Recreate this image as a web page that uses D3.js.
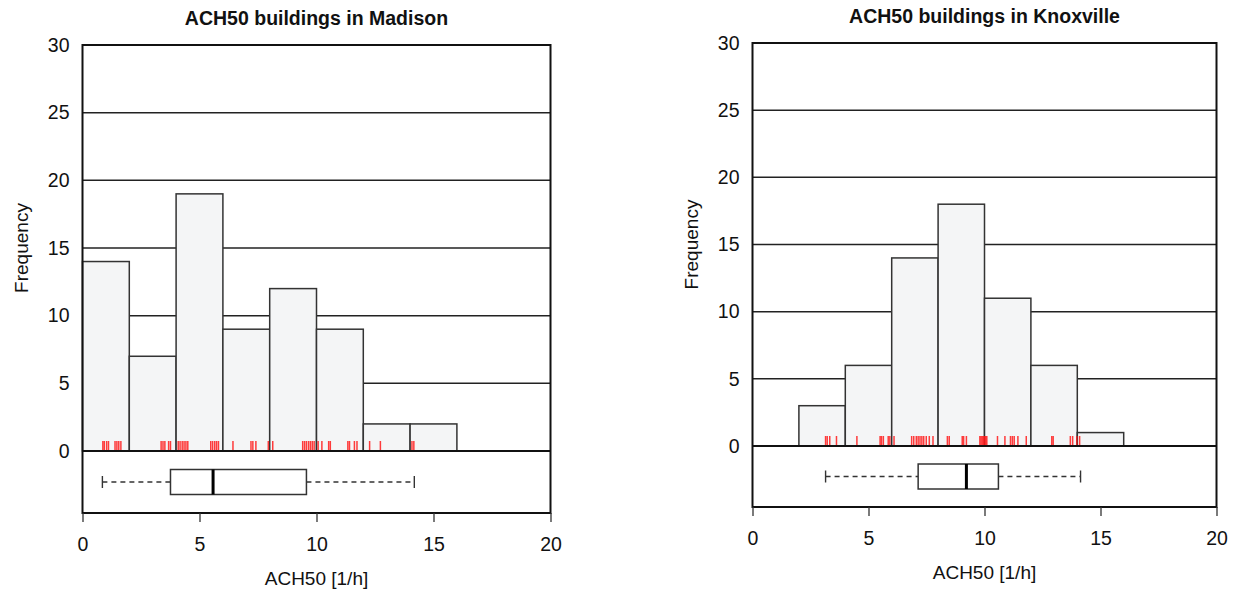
<!DOCTYPE html>
<html>
<head>
<meta charset="utf-8">
<script src="https://d3js.org/d3.v7.min.js"></script>
<style>
  body { margin: 0; background: #fff; }
  text { font-family: "Liberation Sans", Arial, sans-serif; fill: #111; }
</style>
</head>
<body>
<script>
// histogram bins are 2 units wide
var binStarts = [0, 2, 4, 6, 8, 10, 12, 14];
var madisonCounts = [14, 7, 19, 9, 12, 9, 2, 2];
var knoxvilleCounts = [0, 3, 6, 14, 18, 11, 6, 1];

// box plot: min, q1, median, q3, max
var madisonBox = [0.85, 3.76, 5.58, 9.57, 14.18];
var knoxvilleBox = [3.15, 7.14, 9.22, 10.6, 14.14];

// rug marks
var madisonRug = [0.87, 0.93, 1.03, 1.11, 1.39, 1.47, 1.55, 1.64, 3.36, 3.44, 3.52,
  3.68, 3.76, 4.09, 4.17, 4.26, 4.34, 4.42, 4.5, 5.48, 5.56, 5.65, 5.73, 5.81, 6.43,
  7.2, 7.28, 7.41, 7.94, 8.13, 9.41, 9.49, 9.57, 9.66, 9.74, 9.82, 9.9, 10.07, 10.23,
  10.52, 10.59, 11.34, 11.41, 11.62, 11.73, 12.27, 12.73, 14.08, 14.16];
var knoxvilleRug = [3.15, 3.22, 3.33, 3.62, 4.5, 5.5, 5.56, 5.64, 5.85, 5.92, 6.1,
  6.86, 6.95, 7.06, 7.14, 7.22, 7.3, 7.38, 7.49, 7.62, 7.78, 8.4, 8.48, 9.04, 9.1,
  9.22, 9.8, 9.85, 9.9, 9.95, 10.0, 10.05, 10.1, 10.56, 10.88, 11.12, 11.2, 11.28,
  11.44, 11.8, 12.9, 12.96, 13.7, 13.8, 13.98, 14.1];

var xTicks = [0, 5, 10, 15, 20];
var yTicks = [0, 5, 10, 15, 20, 25, 30];
var gridTicks = [5, 10, 15, 20, 25];

var svg = d3.select("body").append("svg")
    .attr("width", 1238)
    .attr("height", 592);

drawPanel({left: 82.5, right: 550.5, top: 45, zero: 451, bottom: 513,
  title: "ACH50 buildings in Madison", counts: madisonCounts,
  box: madisonBox, rug: madisonRug, ylabX: 21});
drawPanel({left: 752.5, right: 1216.5, top: 43, zero: 446, bottom: 507,
  title: "ACH50 buildings in Knoxville", counts: knoxvilleCounts,
  box: knoxvilleBox, rug: knoxvilleRug, ylabX: 691});

function drawPanel(p)
{
  var x = d3.scaleLinear().domain([0, 20]).range([p.left, p.right]);
  var y = d3.scaleLinear().domain([0, 30]).range([p.zero, p.top]);
  var g = svg.append("g");

  // grid lines sit behind the bars
  g.selectAll(".grid")
      .data(gridTicks)
    .enter().append("line")
      .attr("x1", p.left)
      .attr("x2", p.right)
      .attr("y1", function(d) { return y(d); })
      .attr("y2", function(d) { return y(d); })
      .attr("stroke", "#222")
      .attr("stroke-width", 1.5);

  var bins = binStarts.map(function(s, i) { return {x0: s, x1: s + 2, n: p.counts[i]}; })
      .filter(function(d) { return d.n > 0; });

  g.selectAll(".bar")
      .data(bins)
    .enter().append("rect")
      .attr("x", function(d) { return x(d.x0); })
      .attr("y", function(d) { return y(d.n); })
      .attr("width", function(d) { return x(d.x1) - x(d.x0); })
      .attr("height", function(d) { return y(0) - y(d.n); })
      .attr("fill", "#f4f5f6")
      .attr("stroke", "#333")
      .attr("stroke-width", 1.5);

  g.selectAll(".rug")
      .data(p.rug)
    .enter().append("line")
      .attr("x1", function(d) { return x(d); })
      .attr("x2", function(d) { return x(d); })
      .attr("y1", p.zero - 10)
      .attr("y2", p.zero - 1)
      .attr("stroke", "#ff1a1a")
      .attr("stroke-opacity", 0.85)
      .attr("stroke-width", 1.5);

  // box plot underneath
  var cy = (p.zero + p.bottom) / 2;
  var bh = 25;
  var b = p.box;
  g.selectAll(".whisker")
      .data([[b[0], b[1]], [b[3], b[4]]])
    .enter().append("line")
      .attr("x1", function(d) { return x(d[0]); })
      .attr("x2", function(d) { return x(d[1]); })
      .attr("y1", cy)
      .attr("y2", cy)
      .attr("stroke", "#333")
      .attr("stroke-width", 1.4)
      .attr("stroke-dasharray", "5,4");
  g.selectAll(".cap")
      .data([b[0], b[4]])
    .enter().append("line")
      .attr("x1", function(d) { return x(d); })
      .attr("x2", function(d) { return x(d); })
      .attr("y1", cy - 6)
      .attr("y2", cy + 6)
      .attr("stroke", "#333")
      .attr("stroke-width", 1.4);
  g.append("rect")
      .attr("x", x(b[1]))
      .attr("y", cy - bh / 2)
      .attr("width", x(b[3]) - x(b[1]))
      .attr("height", bh)
      .attr("fill", "#fff")
      .attr("stroke", "#333")
      .attr("stroke-width", 1.5);
  g.append("line")
      .attr("x1", x(b[2]))
      .attr("x2", x(b[2]))
      .attr("y1", cy - bh / 2)
      .attr("y2", cy + bh / 2)
      .attr("stroke", "#000")
      .attr("stroke-width", 3);

  // frame and divider
  g.append("rect")
      .attr("x", p.left)
      .attr("y", p.top)
      .attr("width", p.right - p.left)
      .attr("height", p.bottom - p.top)
      .attr("fill", "none")
      .attr("stroke", "#111")
      .attr("stroke-width", 2);
  g.append("line")
      .attr("x1", p.left)
      .attr("x2", p.right)
      .attr("y1", p.zero)
      .attr("y2", p.zero)
      .attr("stroke", "#111")
      .attr("stroke-width", 2);

  var xAxis = d3.axisBottom(x).tickValues(xTicks).tickSize(9).tickPadding(15);
  var ax = g.append("g")
      .attr("transform", "translate(0," + p.bottom + ")")
      .call(xAxis);
  ax.select(".domain").remove();
  ax.selectAll("line").attr("stroke", "#333").attr("stroke-width", 1.3);
  ax.selectAll("text").style("font-size", "19.5px").attr("fill", "#111");

  var yAxis = d3.axisLeft(y).tickValues(yTicks).tickSize(0).tickPadding(13);
  var ay = g.append("g")
      .attr("transform", "translate(" + p.left + ",0)")
      .call(yAxis);
  ay.select(".domain").remove();
  ay.selectAll("text").style("font-size", "19.5px").attr("fill", "#111");

  var cx = (p.left + p.right) / 2;
  g.append("text")
      .attr("x", cx)
      .attr("y", p.top - 20)
      .attr("text-anchor", "middle")
      .style("font-size", "19.5px")
      .style("font-weight", "bold")
      .text(p.title);

  g.append("text")
      .attr("x", cx)
      .attr("y", p.bottom + 72)
      .attr("text-anchor", "middle")
      .style("font-size", "19px")
      .text("ACH50 [1/h]");

  g.append("text")
      .attr("transform", "translate(" + p.ylabX + "," + (p.top + p.zero) / 2 + ") rotate(-90)")
      .attr("dy", "0.35em")
      .attr("text-anchor", "middle")
      .style("font-size", "19px")
      .text("Frequency");
}
</script>
</body>
</html>
